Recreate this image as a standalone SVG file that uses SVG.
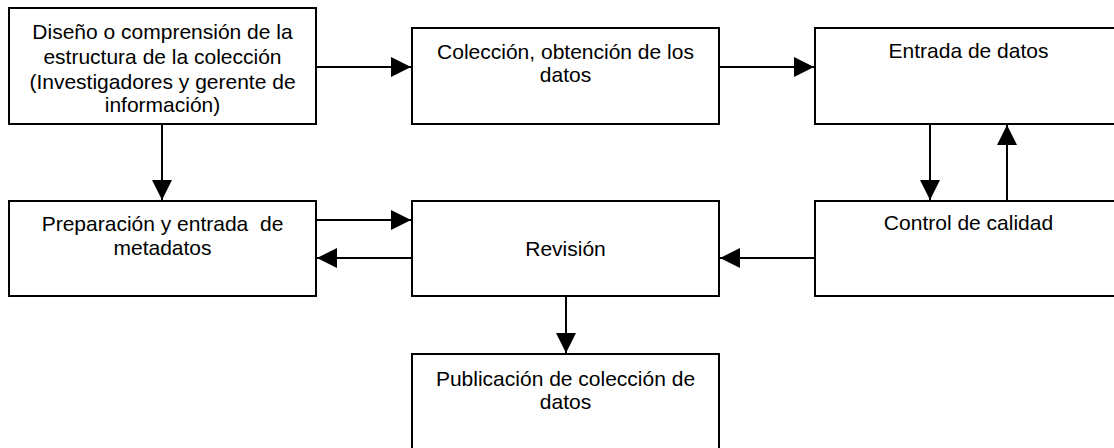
<svg xmlns="http://www.w3.org/2000/svg" width="1114" height="448" viewBox="0 0 1114 448">
<style>
.box{fill:#fff;stroke:#000;stroke-width:2}
.t{font-family:"Liberation Sans",Arial,sans-serif;font-size:21px;fill:#000;text-anchor:middle}
.c line{stroke:#000;stroke-width:2;marker-end:url(#ah)}
</style>
<defs>
<marker id="ah" markerUnits="userSpaceOnUse" markerWidth="20" markerHeight="20" refX="20" refY="10" orient="auto" viewBox="0 0 20 20">
<path d="M0,0 L20,10 L0,20 z" fill="#000"/>
</marker>
</defs>
<rect width="1114" height="448" fill="#fff"/>
<g id="n1"><rect class="box" x="9" y="8" width="307" height="116"/>
<text class="t" x="162.5" y="39">Diseño o comprensión de la</text>
<text class="t" x="162.5" y="64">estructura de la colección</text>
<text class="t" x="162.5" y="89">(Investigadores y gerente de</text>
<text class="t" x="162.5" y="112">información)</text></g>
<g id="n2"><rect class="box" x="412" y="28" width="307" height="96"/>
<text class="t" x="565.5" y="59">Colección, obtención de los</text>
<text class="t" x="565.5" y="82">datos</text></g>
<g id="n3"><rect class="box" x="815" y="28" width="307" height="96"/>
<text class="t" x="968.5" y="58">Entrada de datos</text></g>
<g id="n4"><rect class="box" x="9" y="201" width="307" height="95"/>
<text class="t" x="162.5" y="231" xml:space="preserve">Preparación y entrada  de</text>
<text class="t" x="162.5" y="255">metadatos</text></g>
<g id="n5"><rect class="box" x="412" y="201" width="307" height="95"/>
<text class="t" x="565.5" y="256">Revisión</text></g>
<g id="n6"><rect class="box" x="815" y="201" width="307" height="95"/>
<text class="t" x="968.5" y="230">Control de calidad</text></g>
<g id="n7"><rect class="box" x="412" y="354" width="307" height="110"/>
<text class="t" x="565.5" y="386">Publicación de colección de</text>
<text class="t" x="565.5" y="409">datos</text></g>
<g class="c" id="connectors">
<line x1="316" y1="67" x2="411" y2="67"/>
<line x1="719" y1="67" x2="814" y2="67"/>
<line x1="930" y1="124" x2="930" y2="200"/>
<line x1="1007" y1="201" x2="1007" y2="125"/>
<line x1="162" y1="124" x2="162" y2="200"/>
<line x1="316" y1="220" x2="411" y2="220"/>
<line x1="412" y1="258" x2="317" y2="258"/>
<line x1="815" y1="258" x2="720" y2="258"/>
<line x1="566" y1="296" x2="566" y2="353"/>
</g>
</svg>
